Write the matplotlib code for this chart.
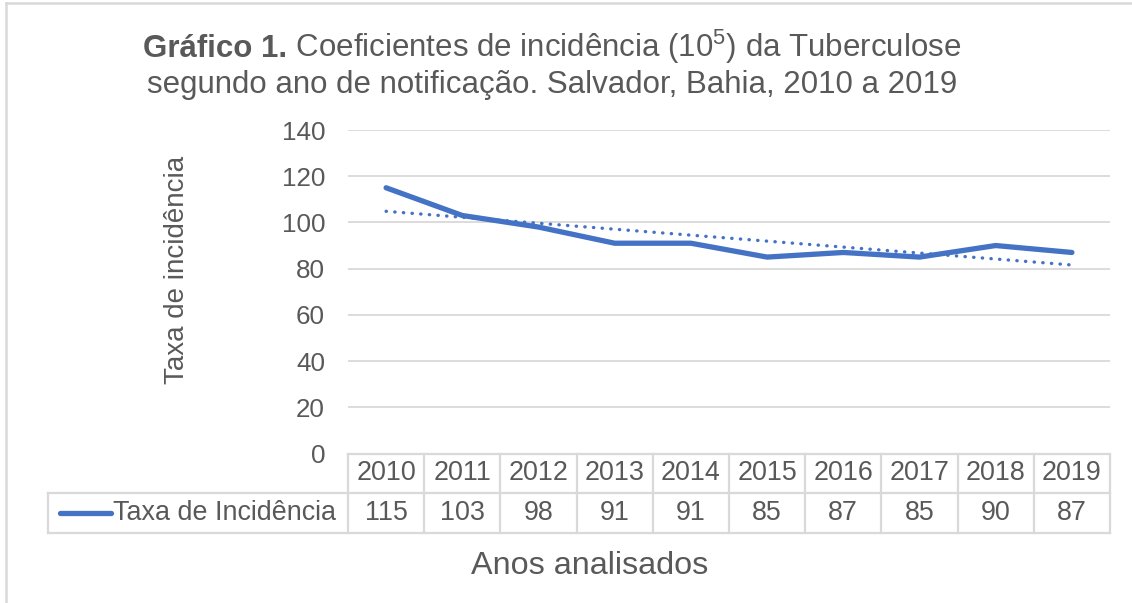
import numpy as np
import matplotlib.pyplot as plt
from matplotlib.transforms import blended_transform_factory

anos = ['2010', '2011', '2012', '2013', '2014', '2015', '2016', '2017', '2018', '2019']
taxa = [115, 103, 98, 91, 91, 85, 87, 85, 90, 87]
y_ticks = [0, 20, 40, 60, 80, 100, 120, 140]

azul = '#4472C4'
cinza_txt = '#595959'
cinza_lin = '#D9D9D9'

plt.rcParams['font.family'] = ['Liberation Sans', 'DejaVu Sans']
plt.rcParams['mathtext.fontset'] = 'custom'
plt.rcParams['mathtext.rm'] = 'Liberation Sans'
plt.rcParams['mathtext.bf'] = 'Liberation Sans:bold'

W, H = 1132, 603
fig = plt.figure(figsize=(W / 100, H / 100), dpi=100)

# eixo: 140 em y=130 px, 0 em y=453.5 px, x de 348 a 1110 px
x0, x1, ytop, ybot = 348, 1110, 130, 453.5
ax = fig.add_axes([x0 / W, 1 - ybot / H, (x1 - x0) / W, (ybot - ytop) / H])

x = np.arange(len(anos))
ax.plot(x, taxa, color=azul, lw=3.8, solid_capstyle='round', solid_joinstyle='round', zorder=3)

# linha de tendencia linear (como no Excel)
a, b = np.polyfit(x, taxa, 1)
ax.plot(x, a * x + b, color=azul, lw=2.4, linestyle=(0, (0.1, 2.5)),
        dash_capstyle='round', zorder=3)

ax.set_xlim(-0.5, len(anos) - 0.5)
ax.set_ylim(0, 140)
ax.set_yticks(y_ticks)
ax.set_xticks([])
for v in y_ticks[1:]:
    ax.axhline(v, color=cinza_lin, lw=1.3, zorder=1)
for s in ax.spines.values():
    s.set_visible(False)
ax.tick_params(axis='y', length=0, pad=16.5, labelsize=18.7, labelcolor=cinza_txt)

ax.set_ylabel('Taxa de incidência', fontsize=20, color=cinza_txt)
ax.yaxis.set_label_coords((190 - x0) / (x1 - x0), 0.5 - (270 - (ytop + ybot) / 2) / (ybot - ytop))

# tabela de dados
tr = blended_transform_factory(ax.transData, ax.transAxes)
px = (ybot - ytop)
r1 = -(493 - ybot) / px
r2 = -(532.5 - ybot) / px
x_leg = (48 - x0) / ((x1 - x0) / len(anos)) - 0.5

kw = dict(color=cinza_lin, lw=1.6, transform=tr, clip_on=False)
ax.plot([-0.5, len(anos) - 0.5], [0, 0], **kw)
ax.plot([x_leg, len(anos) - 0.5], [r1, r1], **kw)
ax.plot([x_leg, len(anos) - 0.5], [r2, r2], **kw)
ax.plot([x_leg, x_leg], [r1, r2], **kw)
for i in range(len(anos) + 1):
    ax.plot([i - 0.5, i - 0.5], [0, r2], **kw)

for i, (ano, v) in enumerate(zip(anos, taxa)):
    ax.text(i, r1 / 2, ano, transform=tr, ha='center', va='center',
            fontsize=19.4, color=cinza_txt, clip_on=False)
    ax.text(i, (r1 + r2) / 2, str(v), transform=tr, ha='center', va='center',
            fontsize=19.4, color=cinza_txt, clip_on=False)

# legenda dentro da tabela
fig.add_artist(plt.Line2D([60 / W, 111 / W], [1 - 513 / H, 1 - 513 / H],
                          color=azul, lw=3.8, solid_capstyle='round'))
fig.text(113 / W, 1 - 513 / H, 'Taxa de Incidência', fontsize=19.4, color=cinza_txt,
         ha='left', va='center')

fig.text(590 / W, 1 - 566 / H, 'Anos analisados', fontsize=23.3, color=cinza_txt,
         ha='center', va='center')

# titulo: parte em negrito + resto em texto normal, lado a lado
titulo_b = 'Gráfico 1.'
titulo_r = r' Coeficientes de incidência (10$^5$) da Tuberculose'
rend = fig.canvas.get_renderer()
tb = fig.text(0, 1 - 48 / H, titulo_b, fontsize=22.5, fontweight='bold',
              color=cinza_txt, ha='left', va='baseline')
trr = fig.text(0, 1 - 48 / H, titulo_r, fontsize=22.5, color=cinza_txt,
               ha='left', va='baseline')
wb = tb.get_window_extent(rend).width
wr = trr.get_window_extent(rend).width
xs = 552 - (wb + wr) / 2
base1 = 1 - 57 / H
tb.set_position((xs / W, base1))
trr.set_position(((xs + wb) / W, base1))
fig.text(552 / W, 1 - 93 / H,
         'segundo ano de notificação. Salvador, Bahia, 2010 a 2019',
         fontsize=22.5, color=cinza_txt, ha='center', va='baseline')

# moldura do grafico (so topo e esquerda visiveis)
fig.add_artist(plt.Line2D([6 / W, 6 / W], [0, 1 - 3 / H], color=cinza_lin, lw=1.8))
fig.add_artist(plt.Line2D([6 / W, 1], [1 - 3 / H, 1 - 3 / H], color=cinza_lin, lw=1.8))

fig.savefig('out.png', dpi=100)
